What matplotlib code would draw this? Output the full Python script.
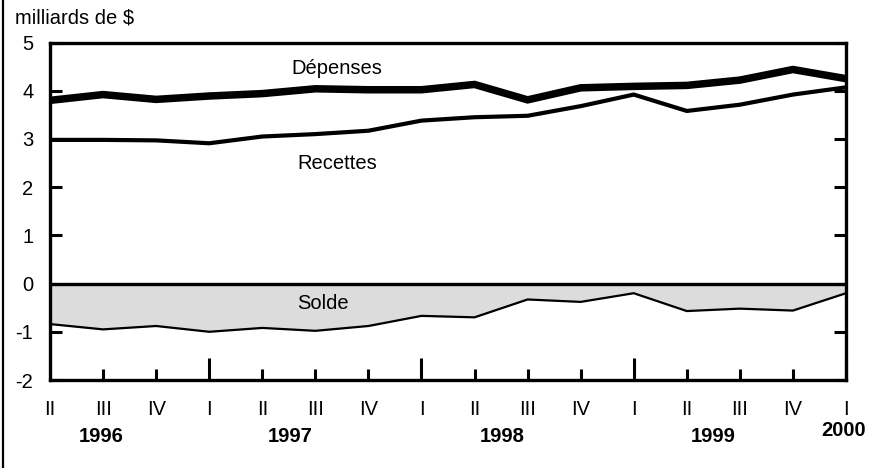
import matplotlib
matplotlib.use("Agg")
import matplotlib.pyplot as plt
import matplotlib.transforms as mtransforms
from matplotlib.lines import Line2D

plt.rcParams['font.family'] = ['Liberation Sans', 'DejaVu Sans']

quarters = ["II", "III", "IV", "I", "II", "III", "IV", "I",
            "II", "III", "IV", "I", "II", "III", "IV", "I"]
years = ["1996", "1997", "1998", "1999", "2000"]
year_pos = [0.96, 4.52, 8.52, 12.49, 14.95]
depenses = [3.80, 3.92, 3.82, 3.89, 3.94, 4.04, 4.02, 4.02,
            4.13, 3.81, 4.06, 4.09, 4.11, 4.22, 4.44, 4.25]
recettes = [2.98, 2.98, 2.97, 2.91, 3.05, 3.10, 3.17, 3.38,
            3.45, 3.48, 3.68, 3.92, 3.58, 3.71, 3.92, 4.07]
solde = [-0.84, -0.95, -0.88, -1.00, -0.92, -0.98, -0.88, -0.67,
         -0.70, -0.33, -0.38, -0.20, -0.57, -0.52, -0.56, -0.20]
yticks = [5, 4, 3, 2, 1, 0, -1, -2]

FS = 14.5
W, H = 876, 468
fig = plt.figure(figsize=(W / 100, H / 100), dpi=100)
ax = fig.add_axes([50 / W, (H - 380) / H, 796 / W, (380 - 42.5) / H])

x = list(range(len(quarters)))
ax.fill_between(x, solde, 0, color='#dcdcdc', linewidth=0, zorder=1)
ax.plot(x, solde, color='black', lw=1.6, zorder=3)
ax.axhline(0, color='black', lw=2.4, zorder=4)
ax.plot(x, recettes, color='black', lw=3.0, zorder=3, solid_joinstyle='miter')
ax.plot(x, depenses, color='black', lw=5.4, zorder=3, solid_joinstyle='miter')

ax.set_xlim(0, 15)
ax.set_ylim(-2, 5)
for s in ax.spines.values():
    s.set_linewidth(2.4)

ax.set_yticks(yticks)
ax.set_yticklabels([str(v) for v in yticks])
ax.tick_params(axis='y', direction='in', length=8.5, width=2.2, left=True,
               right=True, labelsize=FS, pad=12)

ax.set_xticks(x)
ax.set_xticklabels(quarters)
ax.tick_params(axis='x', direction='in', width=2.2, labelsize=FS, pad=14.5)
for i, t in enumerate(ax.xaxis.get_major_ticks()):
    if i == 0:
        t.tick1line.set_markersize(0)
    elif quarters[i] == "I":
        t.tick1line.set_markersize(16)
    else:
        t.tick1line.set_markersize(8)
    t.tick2line.set_markersize(0)

trans = mtransforms.blended_transform_factory(ax.transData, fig.transFigure)
for yr, xp in zip(years, year_pos):
    yy = (H - 437) / H if yr != "2000" else (H - 430) / H
    ax.text(xp, yy, yr, transform=trans, ha='center', va='center',
            fontsize=FS, fontweight='bold')

ax.text(5.41, 4.46, "Dépenses", ha='center', va='center', fontsize=FS)
ax.text(5.41, 2.50, "Recettes", ha='center', va='center', fontsize=FS)
ax.text(5.14, -0.41, "Solde", ha='center', va='center', fontsize=FS, zorder=5)

fig.text(15 / W, (H - 18) / H, "milliards de $", ha='left', va='center',
         fontsize=FS)
fig.add_artist(Line2D([3 / W, 3 / W], [0, 1], transform=fig.transFigure,
                      color='black', lw=1.6))

fig.savefig("out.png", dpi=100)
